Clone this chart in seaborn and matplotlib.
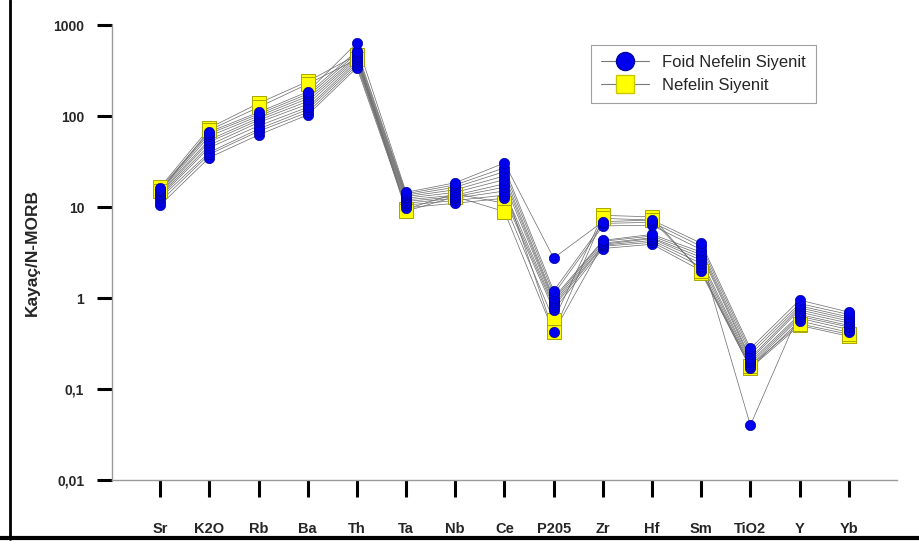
import numpy as np
import pandas as pd
import matplotlib
matplotlib.use("Agg")
import matplotlib.pyplot as plt
from matplotlib.lines import Line2D
import seaborn as sns

elements = ["Sr", "K2O", "Rb", "Ba", "Th", "Ta", "Nb", "Ce", "P205",
            "Zr", "Hf", "Sm", "TiO2", "Y", "Yb"]

# N-MORB normalised values, one list per sample
foid_1 = [10.5, 35, 62, 103, 340, 9.8, 11.0, 12.5, 0.74, 3.5, 3.9, 2.0, 0.17, 0.56, 0.42]
foid_2 = [11.5, 38, 68, 110, 360, 10.5, 11.8, 13.5, 0.80, 3.7, 4.1, 2.2, 0.18, 0.60, 0.45]
foid_3 = [12.5, 40, 72, 118, 380, 11.0, 12.5, 15.0, 0.85, 3.8, 4.3, 2.4, 0.19, 0.63, 0.48]
foid_4 = [13.0, 45, 78, 125, 400, 11.5, 13.0, 16.5, 0.42, 3.9, 4.5, 2.6, 0.20, 0.66, 0.50]
foid_5 = [13.5, 48, 85, 135, 420, 12.0, 13.5, 18.0, 0.90, 4.0, 4.6, 2.8, 0.040, 0.70, 0.53]
foid_6 = [14.0, 52, 90, 145, 440, 12.5, 14.5, 20.0, 0.95, 4.2, 4.8, 3.0, 0.21, 0.74, 0.56]
foid_7 = [14.5, 55, 95, 155, 460, 13.0, 15.5, 22.0, 1.00, 4.3, 5.0, 3.2, 0.22, 0.78, 0.59]
foid_8 = [15.0, 60, 100, 165, 490, 13.5, 16.5, 24.5, 1.10, 6.2, 6.3, 3.4, 0.24, 0.82, 0.62]
foid_9 = [15.5, 64, 105, 175, 520, 14.0, 17.5, 27.0, 1.20, 6.6, 6.8, 3.7, 0.26, 0.87, 0.66]
foid_10 = [16.0, 67, 110, 185, 635, 14.5, 18.5, 30.5, 2.75, 6.9, 7.2, 4.0, 0.28, 0.95, 0.70]

nef_1 = [16.5, 74, 138, 240, 470, 9.5, 14.0, 11.0, 0.57, 8.1, 7.8, 1.9, 0.17, 0.50, 0.38]
nef_2 = [15.0, 70, 125, 225, 420, 9.0, 13.0, 8.9, 0.42, 7.5, 7.2, 2.0, 0.18, 0.52, 0.40]

groups = {
    "Nefelin Siyenit": [nef_1, nef_2],
    "Foid Nefelin Siyenit": [foid_1, foid_2, foid_3, foid_4, foid_5,
                             foid_6, foid_7, foid_8, foid_9, foid_10],
}

rows = []
for grp, samples in groups.items():
    for k, vals in enumerate(samples):
        for i, v in enumerate(vals):
            rows.append({"group": grp, "sample": f"{grp}-{k}", "pos": i,
                         "element": elements[i], "value": v})
df = pd.DataFrame(rows)

sns.set_style("white")
plt.rcParams["font.family"] = ["Liberation Sans", "DejaVu Sans"]

fig = plt.figure(figsize=(9.19, 5.44), dpi=100)
ax = fig.add_axes([0.1219, 0.1176, 0.8541, 0.8364])

# thin connecting lines per sample
sns.lineplot(data=df, x="pos", y="value", units="sample", estimator=None,
             color="#6a6a6a", lw=0.5, ax=ax, legend=False, sort=False)

# markers: squares first, circles on top
nef = df[df.group == "Nefelin Siyenit"]
foid = df[df.group == "Foid Nefelin Siyenit"]
sns.scatterplot(data=nef, x="pos", y="value", marker="s", s=88,
                color="#ffff00", edgecolor="#a8a800", linewidth=0.7,
                ax=ax, legend=False, zorder=3)
sns.scatterplot(data=foid, x="pos", y="value", marker="o", s=55,
                color="#0000ee", edgecolor="#0000a0", linewidth=0.5,
                ax=ax, legend=False, zorder=4)

ax.set_yscale("log")
ax.set_ylim(0.01, 1000)
ax.set_xlim(-0.98, 14.98)
ax.set_yticks([0.01, 0.1, 1, 10, 100, 1000])
ax.set_yticklabels(["0,01", "0,1", "1", "10", "100", "1000"],
                   fontsize=10, fontweight="bold")
ax.yaxis.set_minor_locator(matplotlib.ticker.NullLocator())
ax.set_xticks(range(len(elements)))
ax.set_xticklabels(elements, fontsize=10.5, fontweight="bold",
                   family=["Liberation Sans Narrow", "Liberation Sans", "DejaVu Sans"])
ax.set_xlabel("")
ax.set_ylabel("Kayaç/N-MORB", fontsize=12.5, fontweight="bold")
ax.yaxis.set_label_coords(-0.092, 0.5)

ax.tick_params(axis="y", direction="out", length=11, width=2.2, color="black",
               pad=9, left=True)
ax.tick_params(axis="x", direction="out", length=12, width=2.2, color="black",
               pad=18, bottom=True)

for side in ("top", "right"):
    ax.spines[side].set_visible(False)
for side in ("left", "bottom"):
    ax.spines[side].set_color("#9a9a9a")
    ax.spines[side].set_linewidth(1.0)

handles = [
    Line2D([0], [0], color="#7a7a7a", lw=0.8, marker="o", markersize=13,
           markerfacecolor="#0000ee", markeredgecolor="#0000a0"),
    Line2D([0], [0], color="#7a7a7a", lw=0.8, marker="s", markersize=13,
           markerfacecolor="#ffff00", markeredgecolor="#c8c800"),
]
leg = ax.legend(handles, ["Foid Nefelin Siyenit", "Nefelin Siyenit"],
                loc="upper left", bbox_to_anchor=(0.61, 0.956),
                fontsize=12, frameon=True, fancybox=False,
                handlelength=2.9, borderpad=0.6, labelspacing=0.45,
                handletextpad=0.8, borderaxespad=0)
leg.get_frame().set_edgecolor("#888888")
leg.get_frame().set_linewidth(0.8)

# outer frame edges
fig.add_artist(Line2D([0.011, 0.011], [0.01, 1.0], color="black", lw=2.0,
                      transform=fig.transFigure))
fig.add_artist(Line2D([0.0, 1.0], [0.011, 0.011], color="black", lw=3.0,
                      transform=fig.transFigure))

fig.savefig("out.png", dpi=100)
